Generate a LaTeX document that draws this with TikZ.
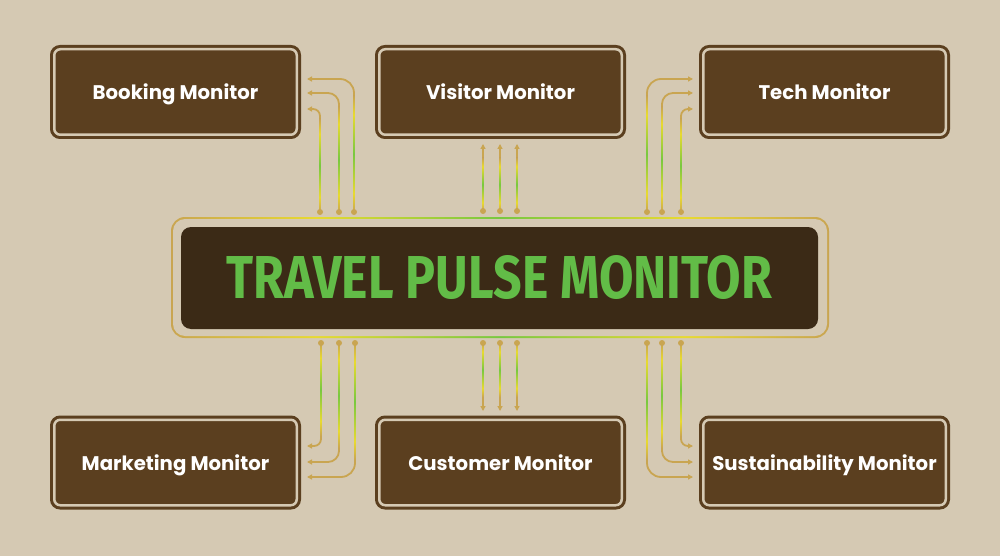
\documentclass[tikz,border=0pt]{standalone}
\usepackage{fontspec}
\usepackage{graphicx}
\usetikzlibrary{arrows.meta,calc}

\newfontfamily\boxfont{Poppins}
\newfontfamily\titlefont{Fira Sans}

\definecolor{bg}{HTML}{D5C9B3}
\definecolor{boxbrown}{HTML}{5B3F1F}
\definecolor{hubbrown}{HTML}{3B2A16}
\definecolor{titlegreen}{HTML}{62BC47}
\definecolor{gold}{HTML}{C9A551}
\definecolor{wireyellow}{HTML}{E8DA30}
\definecolor{wiregreen}{HTML}{78C840}

\pgfdeclareverticalshading{glow}{100bp}{color(0bp)=(gold); color(25bp)=(gold); color(33bp)=(wireyellow); color(50bp)=(wiregreen); color(67bp)=(wireyellow); color(75bp)=(gold); color(100bp)=(gold)}
\pgfdeclarehorizontalshading{rim}{100bp}{color(0bp)=(gold); color(25bp)=(gold); color(36bp)=(wireyellow); color(50bp)=(wiregreen); color(64bp)=(wireyellow); color(75bp)=(gold); color(100bp)=(gold)}

% wire: start, path operator, end, corner radius
\newcommand\wire[4]{%
  \draw[wire, rounded corners=#4pt] (#1) #2 (#3);
  \shade[shading=glow] ($(#1)+(-0.9,0)$) rectangle ($(#1|-#3)!#4pt+3pt!(#1)+(0.9,0)$);
  \fill[gold] (#1) circle (3);
}

\begin{document}
\begin{tikzpicture}[x=1pt, y=-1pt,
    monitor/.style={draw=boxbrown, fill=boxbrown, line width=3pt, double=bg, double distance=2.5pt,
        rounded corners=6pt, minimum width=242.5pt, minimum height=85.5pt, inner sep=0pt,
        text height=16pt, text depth=0pt,
        text=white, font=\boxfont\bfseries\fontsize{19.7}{22}\selectfont},
    hub/.style={fill=hubbrown, rounded corners=10pt, minimum width=637pt, minimum height=102pt,
        inner sep=0pt, text=titlegreen},
    wire/.style={draw=gold, line width=1.8pt, -{Triangle[length=5pt,width=5pt]}}]

    % Background
    \fill[bg] (0,0) rectangle (1000,556);
    \useasboundingbox (0,0) rectangle (1000,556);

    % Frame round the hub
    \shade[shading=rim, rounded corners=14pt] (171,217) rectangle (829,338);
    \fill[bg, rounded corners=12pt] (173,219) rectangle (827,336);

    % Hub
    \node[hub] (pulse) at (499.5,278) {\resizebox{545pt}{43pt}{\titlefont\bfseries TRAVEL PULSE MONITOR}};

    % Monitors
    \node[monitor] (booking) at (175.5,92) {Booking Monitor};
    \node[monitor] (visitor) at (500.5,92) {Visitor Monitor};
    \node[monitor] (tech) at (824.5,92) {Tech Monitor};
    \node[monitor] (marketing) at (175.5,462.5) {Marketing Monitor};
    \node[monitor] (customer) at (500.5,462.5) {Customer Monitor};
    \node[monitor] (sustain) at (824.5,462.5) {Sustainability Monitor};

    % Wire ends
    \foreach \x/\y [count=\i] in {320/109, 339/93, 354/79} {
        \coordinate (bk\i) at (\x,212); \coordinate (bkend\i) at (307,\y);
    }
    \foreach \x [count=\i] in {483, 500, 517} {
        \coordinate (vi\i) at (\x,211); \coordinate (viend\i) at (\x,144);
        \coordinate (cu\i) at (\x,343); \coordinate (cuend\i) at (\x,411);
    }
    \foreach \x/\y [count=\i] in {681/109, 662/93, 647/79} {
        \coordinate (te\i) at (\x,212); \coordinate (teend\i) at (693,\y);
    }
    \foreach \x/\y [count=\i] in {321/446, 339/462, 355/477} {
        \coordinate (ma\i) at (\x,343); \coordinate (maend\i) at (307,\y);
    }
    \foreach \x/\y [count=\i] in {681/446, 662/462, 647/477} {
        \coordinate (su\i) at (\x,343); \coordinate (suend\i) at (693,\y);
    }

    % Wires (inner, middle, outer)
    \foreach \i/\r in {1/7, 2/11, 3/14} {
        \wire{bk\i}{|-}{bkend\i}{\r}
        \wire{vi\i}{--}{viend\i}{11}
        \wire{te\i}{|-}{teend\i}{\r}
        \wire{ma\i}{|-}{maend\i}{\r}
        \wire{cu\i}{--}{cuend\i}{11}
        \wire{su\i}{|-}{suend\i}{\r}
    }
\end{tikzpicture}
\end{document}
